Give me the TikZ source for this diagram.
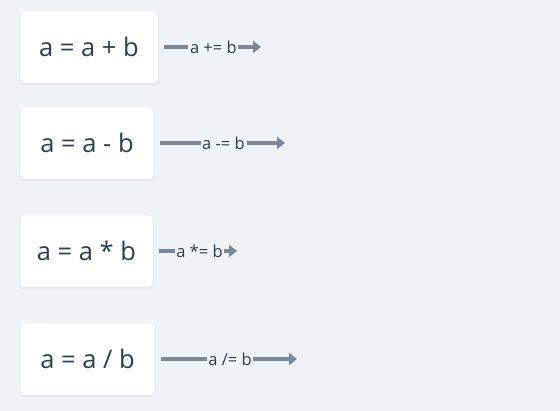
\documentclass[tikz,border=0pt]{standalone}
\usepackage{fontspec}
\setmainfont{Open Sans}
\usetikzlibrary{arrows.meta}
\definecolor{bg}{HTML}{F0F3F6}
\definecolor{arr}{HTML}{778899}
\definecolor{txt}{HTML}{2C3E50}
\tikzset{
  box/.style={fill=white, rounded corners=4pt, inner sep=0pt, text=txt, font=\fontsize{25.5}{28}\selectfont},
  lbl/.style={inner sep=1.5pt, text=txt, font=\fontsize{16.5}{19}\selectfont, anchor=center},
  conn/.style={draw=arr, line width=4pt},
  connarrow/.style={draw=arr, line width=4pt, -{Triangle[length=8pt,width=12pt]}},
}
\begin{document}
\begin{tikzpicture}[x=1pt,y=-1pt]
\useasboundingbox[fill=bg] (0,0) rectangle (560,411);
% shadows
\foreach \l/\t/\r/\b in {20/11/158/83, 20/107/154/179, 20/215/153/287, 20/323/155/395}
  \fill[black, opacity=0.04, rounded corners=4pt] (\l-1,\t) rectangle (\r+1,\b+2);
% boxes
\node[box, minimum width=138pt, minimum height=72pt] (b1) at (89,47) {a = a + b};
\node[box, minimum width=134pt, minimum height=72pt] (b2) at (87,143) {a = a - b};
\node[box, minimum width=133pt, minimum height=72pt] (b3) at (86.5,251) {a = a * b};
\node[box, minimum width=135pt, minimum height=72pt] (b4) at (87.5,359) {a = a / b};
% labels
\node[lbl] (l1) at (213.4,47) {a += b};
\node[lbl] (l2) at (223.5,143) {a -= b};
\node[lbl] (l3) at (199.5,251) {a *= b};
\node[lbl] (l4) at (230,359) {a /= b};
% coordinates
\coordinate (s1) at (164,47); \coordinate (e1) at (261,47);
\coordinate (s2) at (160,143); \coordinate (e2) at (285,143);
\coordinate (s3) at (159,251); \coordinate (e3) at (237,251);
\coordinate (s4) at (161,359); \coordinate (e4) at (297,359);
\foreach \i in {1,2,3,4}{
  \draw[conn] (s\i) -- (l\i.west);
  \draw[connarrow] (l\i.east) -- (e\i);
}
\end{tikzpicture}
\end{document}
